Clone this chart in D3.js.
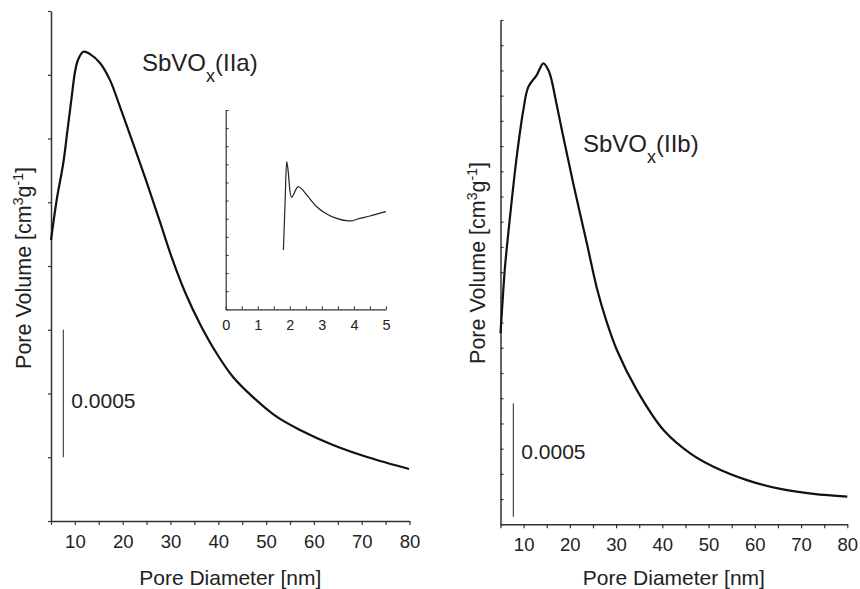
<!DOCTYPE html>
<html>
<head>
<meta charset="utf-8">
<script src="https://cdn.jsdelivr.net/npm/d3@7"></script>
<style>
  html, body { margin: 0; padding: 0; background: #fff; }
  svg { display: block; }
  text { font-family: "Liberation Sans", Arial, Helvetica, sans-serif; fill: #222; }
</style>
</head>
<body>
<svg id="chart" width="860" height="589"></svg>
<script>
// ---------- DATA (pore volume in 1e-4 cm3/g, diameter in nm) ----------
const xTicks = [5, 10, 15, 20, 25, 30, 35, 40, 45, 50, 55, 60, 65, 70, 75, 80];
const xTickLabels = ["", "10", "", "20", "", "30", "", "40", "", "50", "", "60", "", "70", "", "80"];

// Sample IIa (left panel)
const diamA = [5, 6.19, 7.57, 8.45, 9.33, 10.02, 10.65, 11.76, 13.16, 15.25, 17.34, 19.44, 22.15, 25.08, 27.8, 30.31, 33.03, 36.17, 39.73, 43.08, 47.26, 52.28, 57.09, 64.0, 71.11, 79.9];
const volA  = [11.02, 12.59, 14.04, 15.33, 16.63, 17.61, 18.08, 18.40, 18.31, 17.96, 17.29, 16.24, 14.82, 13.25, 11.73, 10.31, 8.98, 7.73, 6.55, 5.65, 4.86, 4.08, 3.57, 2.98, 2.51, 2.04];
const yTicksA = [0, 2.5, 5, 7.5, 10, 12.5, 15, 17.5, 20];

// Inset (left panel), arbitrary units
const insetDiam = [1.80, 1.85, 1.90, 1.95, 2.00, 2.06, 2.12, 2.20, 2.26, 2.36, 2.53, 2.84, 3.15, 3.46, 3.77, 3.92, 4.09, 4.50, 5.0];
const insetVol  = [3.27, 5.8, 8.15, 7.6, 6.6, 6.18, 6.35, 6.65, 6.77, 6.66, 6.31, 5.66, 5.26, 5.02, 4.89, 4.88, 4.97, 5.15, 5.39];
const insetXTicks = [0, 0.5, 1, 1.5, 2, 2.5, 3, 3.5, 4, 4.5, 5];
const insetXLabels = ["0", "", "1", "", "2", "", "3", "", "4", "", "5"];
const insetYTicks = [0, 1, 2, 3, 4, 5, 6, 7, 8, 9, 10, 11];

// Sample IIb (right panel)
const diamB = [5.0, 5.61, 5.97, 7.06, 8.51, 9.94, 11.02, 12.84, 14.27, 15.35, 16.15, 16.80, 18.60, 20.76, 23.66, 25.83, 27.84, 30.16, 34.49, 40.25, 46.03, 51.07, 58.30, 65.51, 72.72, 80.0];
const volB  = [8.43, 10.34, 11.36, 13.57, 16.22, 18.28, 19.30, 19.82, 20.34, 20.04, 19.51, 18.86, 17.08, 15.01, 12.41, 10.43, 9.01, 7.69, 5.92, 4.16, 3.13, 2.54, 1.95, 1.56, 1.34, 1.22];
const yMaxB = 22.25;
const yTicksB = d3.range(0, 21).map(i => i * yMaxB / 20);

// Scale bars: 0.0005 cm3/g = 5 units
const scaleBarA = { x: 7.57, from: 2.5, to: 7.5, label: "0.0005" };
const scaleBarB = { x: 7.77, from: 0.33, to: 5.33, label: "0.0005" };

const sampleA = "IIa", sampleB = "IIb";
const xTitle = "Pore Diameter [nm]";

// ---------- DRAW ----------
const svg = d3.select("#chart");
const axisColor = "#333";

function styleAxis(g, fontSize) {
  g.select(".domain").attr("stroke", axisColor).attr("stroke-width", 1.5);
  g.selectAll(".tick line").attr("stroke", axisColor).attr("stroke-width", 1.2);
  g.selectAll(".tick text").attr("fill", "#222").style("font-size", fontSize + "px")
    .style("font-family", '"Liberation Sans", Arial, sans-serif');
}

function yTitle(x, y) {
  const t = svg.append("text").attr("transform", `translate(${x},${y}) rotate(-90)`)
    .attr("text-anchor", "middle").style("font-size", "21.5px");
  t.append("tspan").text("Pore Volume [cm");
  t.append("tspan").text("3").style("font-size", "14px").attr("dy", -8);
  t.append("tspan").text("g").attr("dy", 8);
  t.append("tspan").text("-1").style("font-size", "14px").attr("dy", -8);
  t.append("tspan").text("]").attr("dy", 8);
}

function sampleLabel(x, y, s) {
  const t = svg.append("text").attr("x", x).attr("y", y).style("font-size", "24px");
  t.append("tspan").text("SbVO");
  t.append("tspan").text("x").style("font-size", "18px").attr("dy", 11);
  t.append("tspan").text("(" + s + ")").attr("dy", -11);
}

function panel(opts) {
  const x = d3.scaleLinear().domain([5, 80]).range(opts.xRange);
  const y = d3.scaleLinear().domain(opts.yDomain).range(opts.yRange);
  const x0 = opts.xRange[0], yb = opts.yRange[0];

  const gx = svg.append("g").attr("transform", `translate(0,${yb})`)
    .call(d3.axisBottom(x).tickValues(xTicks).tickSize(4).tickSizeOuter(0).tickPadding(10)
      .tickFormat((d, i) => xTickLabels[i]));
  styleAxis(gx, 18.5);

  const gy = svg.append("g").attr("transform", `translate(${x0},0)`)
    .call(d3.axisLeft(y).tickValues(opts.yTicks).tickSize(opts.yTickSize).tickSizeOuter(0).tickFormat(""));
  styleAxis(gy, 18);

  const line = d3.line().x(d => x(d[0])).y(d => y(d[1])).curve(d3.curveCatmullRom.alpha(0.5));
  svg.append("path").datum(opts.diam.map((d, i) => [d, opts.vol[i]]))
    .attr("d", line).attr("fill", "none").attr("stroke", "#111").attr("stroke-width", 2.2)
    .attr("stroke-linejoin", "round");

  const sb = opts.bar;
  svg.append("line").attr("x1", x(sb.x)).attr("x2", x(sb.x))
    .attr("y1", y(sb.from)).attr("y2", y(sb.to)).attr("stroke", "#222").attr("stroke-width", 1);
  svg.append("text").attr("x", x(sb.x) + 8).attr("y", opts.barLabelY)
    .style("font-size", "21px").text(sb.label);

  svg.append("text").attr("x", (opts.xRange[0] + opts.xRange[1]) / 2).attr("y", 585)
    .attr("text-anchor", "middle").style("font-size", "21px").text(xTitle);
  return { x, y };
}

panel({
  xRange: [51, 409.5], yDomain: [0, 20], yRange: [521, 11], yTicks: yTicksA, yTickSize: 3,
  diam: diamA, vol: volA, bar: scaleBarA, barLabelY: 408
});
yTitle(31, 268);
sampleLabel(142, 71, sampleA);

panel({
  xRange: [500.5, 847.3], yDomain: [0, yMaxB], yRange: [524.3, 20], yTicks: yTicksB, yTickSize: -3,
  diam: diamB, vol: volB, bar: scaleBarB, barLabelY: 459
});
yTitle(485, 263);
sampleLabel(583, 152, sampleB);

// Inset
const xi = d3.scaleLinear().domain([0, 5]).range([225.7, 386]);
const yi = d3.scaleLinear().domain([0, 11]).range([309.3, 110]);
const gxi = svg.append("g").attr("transform", `translate(0,${yi(0)})`)
  .call(d3.axisBottom(xi).tickValues(insetXTicks).tickSize(-3).tickSizeOuter(0).tickPadding(10)
    .tickFormat((d, i) => insetXLabels[i]));
styleAxis(gxi, 14.5);
gxi.select(".domain").attr("stroke-width", 1.2);
gxi.selectAll(".tick line").attr("stroke-width", 1);
const gyi = svg.append("g").attr("transform", `translate(${xi(0)},0)`)
  .call(d3.axisLeft(yi).tickValues(insetYTicks).tickSize(-3).tickSizeOuter(0).tickFormat(""));
styleAxis(gyi, 14);
gyi.select(".domain").attr("stroke-width", 1.2);
gyi.selectAll(".tick line").attr("stroke-width", 1);
const lineI = d3.line().x(d => xi(d[0])).y(d => yi(d[1])).curve(d3.curveMonotoneX);
svg.append("path").datum(insetDiam.map((d, i) => [d, insetVol[i]]))
  .attr("d", lineI).attr("fill", "none").attr("stroke", "#222").attr("stroke-width", 1.2);
</script>
</body>
</html>
